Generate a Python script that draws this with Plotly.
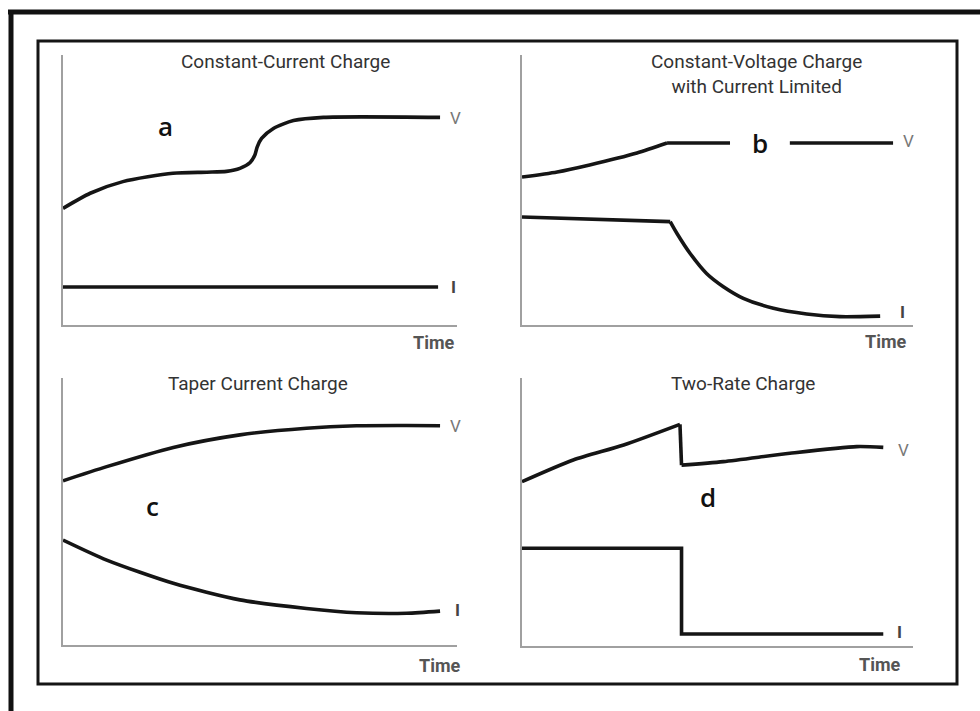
import plotly.graph_objects as go

W, H = 980, 711

# ---------------- data (time 0-100, value 0-100 in each panel) ----------------
# Panel a: Constant-Current Charge
A_V_T = [0, 6.9, 15.2, 27.9, 36.5, 41.5, 44.9, 47.5, 48.7, 49.3, 50.4, 53.4, 58.5, 66.1, 95.7]
A_V = [43.2, 48.8, 53.1, 56.2, 56.6, 56.9, 58.0, 60.2, 63.0, 66.0, 69.1, 72.8, 75.7, 76.9, 76.9]
A_I_T = [0, 95.2]
A_I = [14.1, 14.1]

# Panel b: Constant-Voltage Charge with Current Limited
B_V1_T = [0, 9.0, 17.3, 29.4, 37.1]
B_V1 = [54.8, 56.7, 59.3, 63.7, 67.4]
B_V2_T = [37.1, 53.2, None, 68.5, 94.9]
B_V2 = [67.4, 67.4, None, 67.4, 67.4]
B_I1_T = [0, 37.9]
B_I1 = [40.0, 38.3]
B_I2_T = [37.9, 39.6, 43.0, 47.2, 51.5, 56.6, 64.3, 72.8, 81.3, 91.6]
B_I2 = [38.3, 34.0, 26.5, 19.1, 14.2, 9.9, 6.2, 4.1, 3.1, 3.3]

# Panel c: Taper Current Charge
C_V_T = [0, 11.1, 28.0, 44.9, 61.8, 74.5, 87.2, 95.7]
C_V = [61.5, 66.8, 74.0, 78.7, 81.2, 82.1, 82.2, 82.1]
C_I_T = [0, 11.1, 28.0, 44.9, 61.8, 74.5, 87.2, 95.7]
C_I = [39.3, 31.8, 23.1, 16.9, 13.7, 12.1, 11.9, 12.7]

# Panel d: Two-Rate Charge
D_V1_T = [0, 13.1, 26.0, 40.4]
D_V1 = [61.3, 69.4, 75.0, 82.7]
D_V2_T = [40.4, 40.8]
D_V2 = [82.7, 67.5]
D_V3_T = [40.8, 51.5, 68.5, 85.6, 92.4]
D_V3 = [67.5, 68.8, 71.9, 74.4, 74.1]
D_I_T = [0, 40.8, 40.8, 92.4]
D_I = [36.5, 36.5, 4.5, 4.5]

TITLES = ["Constant-Current Charge", "Constant-Voltage Charge<br>with Current Limited",
          "Taper Current Charge", "Two-Rate Charge"]
LETTERS = ["a", "b", "c", "d"]

# ---------------- layout helpers ----------------
def px(x):
    return x / W

def py(y):
    return 1 - y / H

# panel pixel boxes: (x0, x1, ytop, ybot)
BOXES = [(63, 457, 55, 325), (522, 913, 55, 325), (63, 457, 378, 645), (522, 913, 378, 646)]

fig = go.Figure()
LINE = dict(color="#151515", width=3.6)

def add(panel, t, y, shape="linear"):
    ax = "" if panel == 0 else str(panel + 1)
    fig.add_trace(go.Scatter(x=t, y=y, mode="lines", xaxis="x" + ax, yaxis="y" + ax,
                             line=dict(LINE, shape=shape, smoothing=0.7),
                             connectgaps=False, showlegend=False, hoverinfo="skip"))

add(0, A_V_T, A_V, "spline")
add(0, A_I_T, A_I)
add(1, B_V1_T, B_V1, "spline")
add(1, B_V2_T, B_V2)
add(1, B_I1_T, B_I1)
add(1, B_I2_T, B_I2, "spline")
add(2, C_V_T, C_V, "spline")
add(2, C_I_T, C_I, "spline")
add(3, D_V1_T, D_V1, "spline")
add(3, D_V2_T, D_V2)
add(3, D_V3_T, D_V3, "spline")
add(3, D_I_T, D_I)

layout = dict(width=W, height=H, margin=dict(l=0, r=0, t=0, b=0),
              paper_bgcolor="white", plot_bgcolor="rgba(0,0,0,0)", showlegend=False,
              hovermode=False)
for i, (x0, x1, yt, yb) in enumerate(BOXES):
    ax = "" if i == 0 else str(i + 1)
    layout["xaxis" + ax] = dict(domain=[px(x0), px(x1)], range=[0, 100], showgrid=False,
                                zeroline=False, showticklabels=False, ticks="",
                                showline=True, linecolor="#a0a0a0", linewidth=2,
                                anchor="y" + ax, fixedrange=True)
    layout["yaxis" + ax] = dict(domain=[py(yb), py(yt)], range=[0, 100], showgrid=False,
                                zeroline=False, showticklabels=False, ticks="",
                                showline=True, linecolor="#a0a0a0", linewidth=2,
                                anchor="x" + ax, fixedrange=True)
fig.update_layout(**layout)

ann = []
def text(x, y, s, size, color, family="Roboto, sans-serif", bold=False, weight=None):
    if bold:
        s = "<b>" + s + "</b>"
    font = dict(size=size, color=color, family=family)
    if weight:
        font["weight"] = weight
    ann.append(dict(x=px(x), y=py(y), xref="paper", yref="paper", text=s, showarrow=False,
                    xanchor="center", yanchor="middle", font=font))

# titles
text(285, 62, TITLES[0], 19, "#333")
ann.append(dict(x=px(756), y=py(74), xref="paper", yref="paper", text=TITLES[1], showarrow=False,
                xanchor="center", yanchor="middle", align="center",
                font=dict(size=19, color="#333", family="Roboto, sans-serif")))
text(258, 384, TITLES[2], 19, "#333")
text(743, 384, TITLES[3], 19, "#333")

# Time labels
for (x, y) in [(434, 343), (886, 341), (440, 665), (880, 664)]:
    text(x, y, "Time", 18, "#555", bold=True)
# V labels
for (x, y) in [(455, 118), (908, 141), (455, 426), (903, 450)]:
    text(x, y, "V", 17, "#777")
# I labels
for (x, y) in [(453, 287), (902, 312), (457, 610), (899, 632)]:
    text(x, y, "I", 17, "#444", bold=True)
# panel letters
for (x, y), s in zip([(165, 126), (760, 143), (152, 506), (708, 497)], LETTERS):
    text(x, y, s, 26, "#111", family="Open Sans, sans-serif", weight=600)

fig.update_layout(annotations=ann)

# frame lines (photo border)
shapes = [
    dict(type="line", xref="paper", yref="paper", x0=px(8), x1=1, y0=py(12), y1=py(12),
         line=dict(color="#111", width=5)),
    dict(type="line", xref="paper", yref="paper", x0=px(11), x1=px(11), y0=py(10), y1=0,
         line=dict(color="#111", width=5)),
    dict(type="rect", xref="paper", yref="paper", x0=px(38), x1=px(957), y0=py(41), y1=py(684),
         line=dict(color="#151515", width=3)),
]
fig.update_layout(shapes=shapes)

fig.write_html("out.html", config={"displayModeBar": False, "staticPlot": True},
               post_script="document.body.style.margin='0';document.body.style.overflow='hidden';")
